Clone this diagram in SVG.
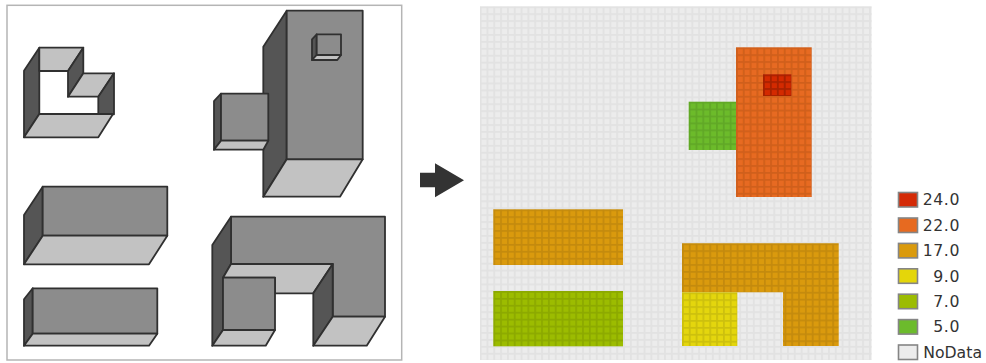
<svg xmlns="http://www.w3.org/2000/svg" width="986" height="363" viewBox="0 0 986 363">
<style>
.o{stroke:#303030;stroke-width:1.8;stroke-linejoin:round}
.d{fill:#555}.f{fill:#8c8c8c}.l{fill:#c2c2c2}
.s{stroke:#858585;stroke-width:1.6}
text{font-family:"DejaVu Sans",sans-serif;font-size:15.7px;fill:#333;text-anchor:end}
.n{letter-spacing:.6px}
</style>
<defs>
<filter id="soft" x="0" y="0" width="1" height="1"><feGaussianBlur stdDeviation=".4"/></filter>
<pattern id="bg" patternUnits="userSpaceOnUse" width="6.83" height="6.93" x="479.65" y="6.3"><path d="M0.9 0V6.93M0 0.9H6.83" stroke="#000" stroke-opacity=".045" stroke-width="1.8" fill="none"/></pattern>
<pattern id="g" patternUnits="userSpaceOnUse" width="6.83" height="6.93" x="479.65" y="6.3"><path d="M0.9 0V6.93M0 0.9H6.83" stroke="#000" stroke-opacity=".1" stroke-width="1.8" fill="none"/></pattern>
<pattern id="r" patternUnits="userSpaceOnUse" width="6.93" height="6.93" x="763" y="74.3"><path d="M0.9 0V6.93M0 0.9H6.93" stroke="#000" stroke-opacity=".22" stroke-width="1.8" fill="none"/></pattern>
<pattern id="g1" href="#g" x="493.3" y="209.3"/>
<pattern id="g2" href="#g" x="493.3" y="291"/>
<pattern id="g3" href="#g" x="682" y="243.3"/>
<pattern id="g4" href="#g" x="688.7" y="101.7"/>
<pattern id="g5" href="#g" x="736" y="47.3"/>
<pattern id="g7" href="#g" x="682" y="292.3"/>
</defs>
<rect width="986" height="363" fill="#fff"/>
<rect id="panel" x="7" y="5.3" width="394.7" height="354.7" fill="#fff" stroke="#b5b5b5" stroke-width="1.5"/>
<g id="shape-notched" class="o">
<polygon class="d" points="24,70.7 39.3,47.7 39.3,114 24,137.3"/>
<polygon class="l" points="39.3,47.7 83.3,47.7 68,71 39.3,71"/>
<polygon class="d" points="83.3,47.7 83.3,73.3 68,96.7 68,71"/>
<polygon class="l" points="83.3,73.3 114,73.3 98.3,96.7 68,96.7"/>
<polygon class="d" points="114,73.3 114,114.3 98.3,114.3 98.3,96.7"/>
<polygon class="l" points="39.3,114 113,114 98.3,137.3 24,137.3"/>
</g>
<g id="shape-tower" class="o">
<polygon class="d" points="263.3,46.7 286.7,10.7 286.7,159.3 263.3,196.7"/>
<rect class="f" x="286.7" y="10.7" width="76" height="148.6"/>
<polygon class="l" points="286.7,159.3 362.7,159.3 340,196.7 263.3,196.7"/>
<polygon class="d" points="312,39.3 316.7,34.3 316.7,55 312,60"/>
<rect class="f" x="316.7" y="34.3" width="24.3" height="20.7"/>
<polygon class="l" points="316.7,55 341,55 337.3,60 312,60"/>
<polygon class="d" points="214,101 221,93.7 221,140.7 214,149.7"/>
<rect class="f" x="221" y="93.7" width="47.3" height="47"/>
<polygon class="l" points="221,140.7 268.3,140.7 263.3,149.7 214,149.7"/>
</g>
<g id="shape-block-tall" class="o">
<polygon class="d" points="24,215 42.7,186.7 42.7,235.7 24,264.3"/>
<rect class="f" x="42.7" y="186.7" width="124.6" height="49"/>
<polygon class="l" points="42.7,235.7 167.3,235.7 149,264.3 24,264.3"/>
</g>
<g id="shape-block-low" class="o">
<polygon class="d" points="24,299.3 32.7,288.3 32.7,333.7 24,345.7"/>
<rect class="f" x="32.7" y="288.3" width="124.6" height="45.4"/>
<polygon class="l" points="32.7,333.7 157.3,333.7 149,345.7 24,345.7"/>
</g>
<g id="shape-arch" class="o">
<polygon class="f" points="231,216.7 385,216.7 385,316.7 332.7,316.7 332.7,264 231,264"/>
<polygon class="d" points="212.3,245 231,216.7 231,264 223,277.7 223,330 212.3,345.7"/>
<polygon class="l" points="231,264 332.7,264 313.3,293.3 275,293.3 275,277.7 223,277.7"/>
<polygon class="d" points="332.7,264 332.7,316.7 313.3,345.7 313.3,293.3"/>
<polygon class="l" points="332.7,316.7 385,316.7 366.7,345.7 313.3,345.7"/>
<rect class="f" x="223" y="277.7" width="52" height="52.3"/>
<polygon class="l" points="223,330 275,330 265.7,345.7 212.3,345.7"/>
</g>
<g id="connectors">
<polygon points="420,172.7 435,172.7 435,163.3 464,180.3 435,197.3 435,187.3 420,187.3" fill="#333"/>
</g>
<g id="raster" filter="url(#soft)">
<rect x="480" y="6.3" width="391.7" height="353.7" fill="#ececec"/>
<rect x="480" y="6.3" width="391.7" height="353.7" fill="url(#bg)"/>
<rect x="493.3" y="209.3" width="129.7" height="55.7" fill="#da9a0c"/>
<rect x="493.3" y="209.3" width="129.7" height="55.7" fill="url(#g1)"/>
<rect x="493.3" y="291" width="129.7" height="55.3" fill="#9cbc02"/>
<rect x="493.3" y="291" width="129.7" height="55.3" fill="url(#g2)"/>
<path d="M682 243.3H838.7V346H783V292.3H682Z" fill="#da9a0c"/>
<path d="M682 243.3H838.7V346H783V292.3H682Z" fill="url(#g3)"/>
<rect x="682" y="292.3" width="55.3" height="53.7" fill="#e4d60a"/>
<rect x="682" y="292.3" width="55.3" height="53.7" fill="url(#g7)"/>
<rect x="688.7" y="101.7" width="47.3" height="48.3" fill="#6cbb2c"/>
<rect x="688.7" y="101.7" width="47.3" height="48.3" fill="url(#g4)"/>
<rect x="736" y="47.3" width="75.7" height="149.7" fill="#e76a20"/>
<rect x="736" y="47.3" width="75.7" height="149.7" fill="url(#g5)"/>
<rect x="763" y="74.3" width="28.3" height="21.7" fill="#d42a06"/>
<rect x="763" y="74.3" width="28.3" height="21.7" fill="url(#r)"/>
</g>
<g id="legend-24"><rect class="s" x="898.5" y="192.5" width="19" height="14.5" fill="#d42a06"/><text class="n" x="960" y="205.3">24.0</text></g>
<g id="legend-22"><rect class="s" x="898.5" y="218" width="19" height="14.5" fill="#e76a20"/><text class="n" x="960" y="230.7">22.0</text></g>
<g id="legend-17"><rect class="s" x="898.5" y="243.4" width="19" height="14.5" fill="#da9a0c"/><text class="n" x="960" y="256.1">17.0</text></g>
<g id="legend-9"><rect class="s" x="898.5" y="268.8" width="19" height="14.5" fill="#e4d60a"/><text class="n" x="960" y="281.5">9.0</text></g>
<g id="legend-7"><rect class="s" x="898.5" y="294.2" width="19" height="14.5" fill="#9cbc02"/><text class="n" x="960" y="306.9">7.0</text></g>
<g id="legend-5"><rect class="s" x="898.5" y="319.6" width="19" height="14.5" fill="#6cbb2c"/><text class="n" x="960" y="332.3">5.0</text></g>
<g id="legend-nodata"><rect class="s" x="898.5" y="345" width="19" height="14.5" fill="#ececec"/><text x="982" y="357.7">NoData</text></g>
</svg>
